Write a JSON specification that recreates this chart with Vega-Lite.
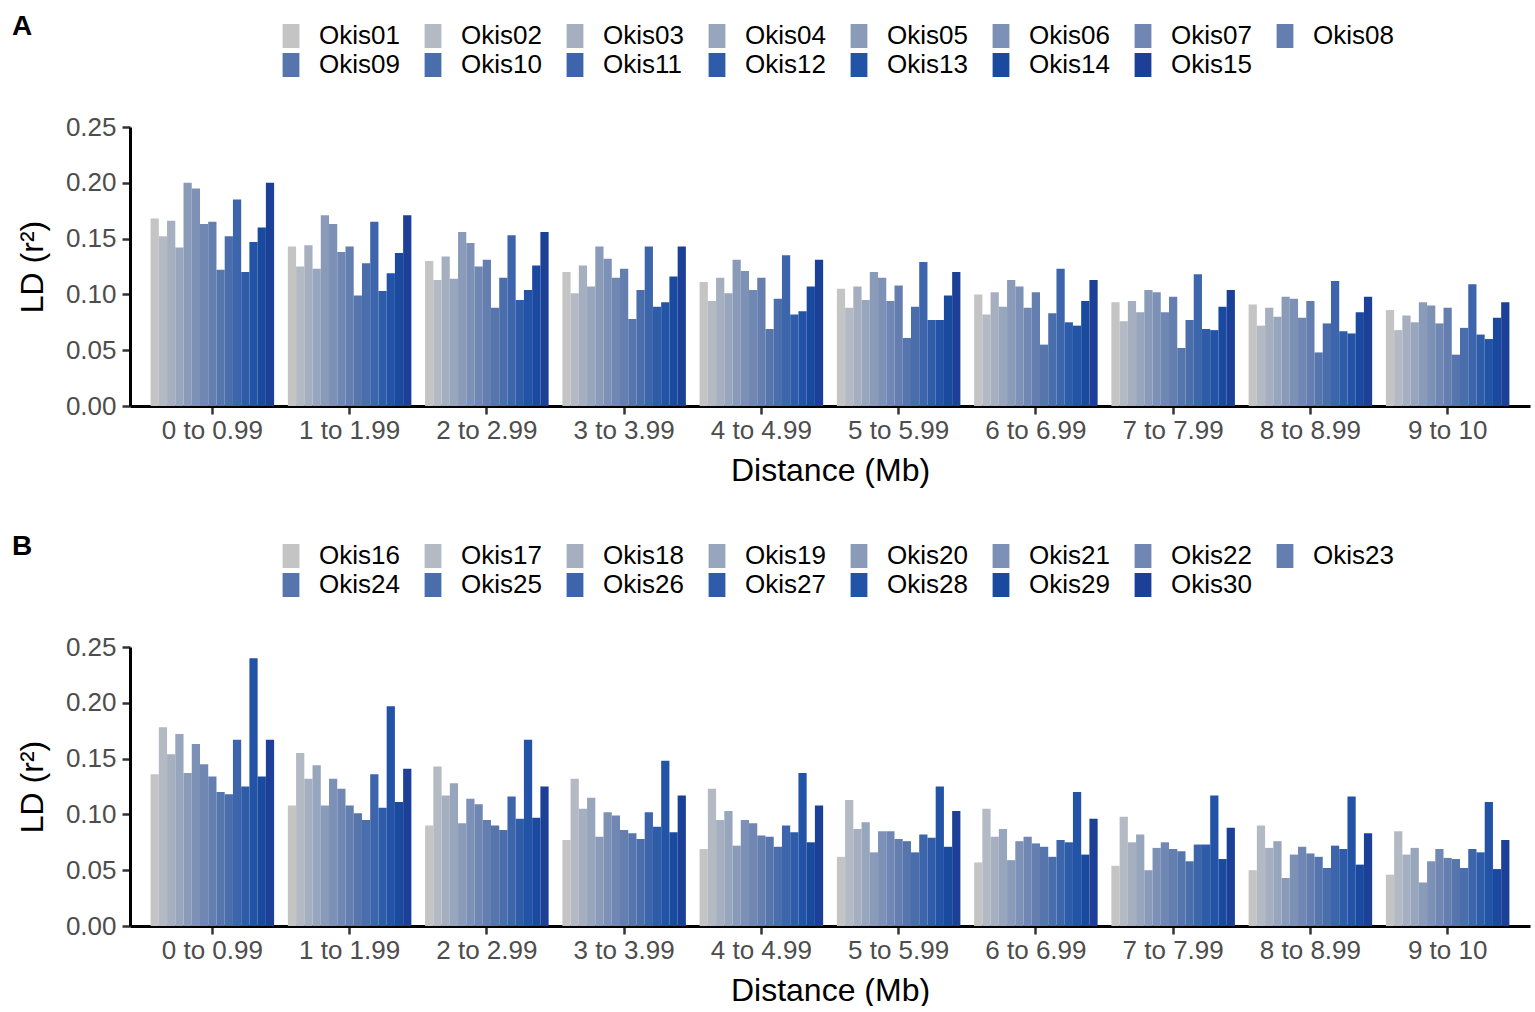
{
  "$schema": "https://vega.github.io/schema/vega-lite/v6.json",
  "background": "white",
  "padding": {"left": 12, "top": 13, "right": 5, "bottom": 0},
  "config": {
    "font": "Liberation Sans",
    "view": {"stroke": null},
    "axis": {
      "grid": false,
      "domainColor": "black",
      "domainWidth": 3,
      "tickColor": "#333333",
      "tickWidth": 2.5,
      "tickSize": 8,
      "labelColor": "#4d4d4d",
      "labelFontSize": 26,
      "labelFont": "Liberation Sans",
      "titleFont": "Liberation Sans",
      "titleFontSize": 32,
      "titleFontWeight": "normal",
      "titleColor": "black"
    },
    "legend": {
      "orient": "none",
      "columns": 8,
      "direction": "horizontal",
      "symbolType": "M-0.7,-1H0.7V1H-0.7Z",
      "symbolSize": 576,
      "symbolStrokeWidth": 0,
      "symbolOpacity": 1,
      "labelFontSize": 26,
      "labelFont": "Liberation Sans",
      "labelColor": "black",
      "labelOffset": 15,
      "columnPadding": 20,
      "rowPadding": 3,
      "padding": 0
    },
    "title": {"fontSize": 28, "fontWeight": "bold", "anchor": "start", "frame": "group", "color": "black"}
  },
  "datasets": {
    "a": [
      {"d":"0 to 0.99","s":"Okis01","r":0.168},{"d":"0 to 0.99","s":"Okis02","r":0.152},{"d":"0 to 0.99","s":"Okis03","r":0.166},{"d":"0 to 0.99","s":"Okis04","r":0.142},{"d":"0 to 0.99","s":"Okis05","r":0.200},{"d":"0 to 0.99","s":"Okis06","r":0.195},{"d":"0 to 0.99","s":"Okis07","r":0.163},{"d":"0 to 0.99","s":"Okis08","r":0.165},{"d":"0 to 0.99","s":"Okis09","r":0.122},{"d":"0 to 0.99","s":"Okis10","r":0.152},{"d":"0 to 0.99","s":"Okis11","r":0.185},{"d":"0 to 0.99","s":"Okis12","r":0.120},{"d":"0 to 0.99","s":"Okis13","r":0.147},{"d":"0 to 0.99","s":"Okis14","r":0.160},{"d":"0 to 0.99","s":"Okis15","r":0.200},
      {"d":"1 to 1.99","s":"Okis01","r":0.143},{"d":"1 to 1.99","s":"Okis02","r":0.125},{"d":"1 to 1.99","s":"Okis03","r":0.144},{"d":"1 to 1.99","s":"Okis04","r":0.123},{"d":"1 to 1.99","s":"Okis05","r":0.171},{"d":"1 to 1.99","s":"Okis06","r":0.163},{"d":"1 to 1.99","s":"Okis07","r":0.138},{"d":"1 to 1.99","s":"Okis08","r":0.143},{"d":"1 to 1.99","s":"Okis09","r":0.099},{"d":"1 to 1.99","s":"Okis10","r":0.128},{"d":"1 to 1.99","s":"Okis11","r":0.165},{"d":"1 to 1.99","s":"Okis12","r":0.103},{"d":"1 to 1.99","s":"Okis13","r":0.119},{"d":"1 to 1.99","s":"Okis14","r":0.137},{"d":"1 to 1.99","s":"Okis15","r":0.171},
      {"d":"2 to 2.99","s":"Okis01","r":0.130},{"d":"2 to 2.99","s":"Okis02","r":0.113},{"d":"2 to 2.99","s":"Okis03","r":0.134},{"d":"2 to 2.99","s":"Okis04","r":0.114},{"d":"2 to 2.99","s":"Okis05","r":0.156},{"d":"2 to 2.99","s":"Okis06","r":0.146},{"d":"2 to 2.99","s":"Okis07","r":0.125},{"d":"2 to 2.99","s":"Okis08","r":0.131},{"d":"2 to 2.99","s":"Okis09","r":0.088},{"d":"2 to 2.99","s":"Okis10","r":0.115},{"d":"2 to 2.99","s":"Okis11","r":0.153},{"d":"2 to 2.99","s":"Okis12","r":0.095},{"d":"2 to 2.99","s":"Okis13","r":0.104},{"d":"2 to 2.99","s":"Okis14","r":0.126},{"d":"2 to 2.99","s":"Okis15","r":0.156},
      {"d":"3 to 3.99","s":"Okis01","r":0.120},{"d":"3 to 3.99","s":"Okis02","r":0.101},{"d":"3 to 3.99","s":"Okis03","r":0.126},{"d":"3 to 3.99","s":"Okis04","r":0.107},{"d":"3 to 3.99","s":"Okis05","r":0.143},{"d":"3 to 3.99","s":"Okis06","r":0.132},{"d":"3 to 3.99","s":"Okis07","r":0.115},{"d":"3 to 3.99","s":"Okis08","r":0.123},{"d":"3 to 3.99","s":"Okis09","r":0.078},{"d":"3 to 3.99","s":"Okis10","r":0.104},{"d":"3 to 3.99","s":"Okis11","r":0.143},{"d":"3 to 3.99","s":"Okis12","r":0.089},{"d":"3 to 3.99","s":"Okis13","r":0.093},{"d":"3 to 3.99","s":"Okis14","r":0.116},{"d":"3 to 3.99","s":"Okis15","r":0.143},
      {"d":"4 to 4.99","s":"Okis01","r":0.111},{"d":"4 to 4.99","s":"Okis02","r":0.094},{"d":"4 to 4.99","s":"Okis03","r":0.115},{"d":"4 to 4.99","s":"Okis04","r":0.101},{"d":"4 to 4.99","s":"Okis05","r":0.131},{"d":"4 to 4.99","s":"Okis06","r":0.121},{"d":"4 to 4.99","s":"Okis07","r":0.104},{"d":"4 to 4.99","s":"Okis08","r":0.115},{"d":"4 to 4.99","s":"Okis09","r":0.069},{"d":"4 to 4.99","s":"Okis10","r":0.096},{"d":"4 to 4.99","s":"Okis11","r":0.135},{"d":"4 to 4.99","s":"Okis12","r":0.082},{"d":"4 to 4.99","s":"Okis13","r":0.085},{"d":"4 to 4.99","s":"Okis14","r":0.107},{"d":"4 to 4.99","s":"Okis15","r":0.131},
      {"d":"5 to 5.99","s":"Okis01","r":0.105},{"d":"5 to 5.99","s":"Okis02","r":0.088},{"d":"5 to 5.99","s":"Okis03","r":0.107},{"d":"5 to 5.99","s":"Okis04","r":0.095},{"d":"5 to 5.99","s":"Okis05","r":0.120},{"d":"5 to 5.99","s":"Okis06","r":0.115},{"d":"5 to 5.99","s":"Okis07","r":0.094},{"d":"5 to 5.99","s":"Okis08","r":0.108},{"d":"5 to 5.99","s":"Okis09","r":0.061},{"d":"5 to 5.99","s":"Okis10","r":0.089},{"d":"5 to 5.99","s":"Okis11","r":0.129},{"d":"5 to 5.99","s":"Okis12","r":0.077},{"d":"5 to 5.99","s":"Okis13","r":0.077},{"d":"5 to 5.99","s":"Okis14","r":0.099},{"d":"5 to 5.99","s":"Okis15","r":0.120},
      {"d":"6 to 6.99","s":"Okis01","r":0.100},{"d":"6 to 6.99","s":"Okis02","r":0.082},{"d":"6 to 6.99","s":"Okis03","r":0.102},{"d":"6 to 6.99","s":"Okis04","r":0.089},{"d":"6 to 6.99","s":"Okis05","r":0.113},{"d":"6 to 6.99","s":"Okis06","r":0.107},{"d":"6 to 6.99","s":"Okis07","r":0.088},{"d":"6 to 6.99","s":"Okis08","r":0.102},{"d":"6 to 6.99","s":"Okis09","r":0.055},{"d":"6 to 6.99","s":"Okis10","r":0.083},{"d":"6 to 6.99","s":"Okis11","r":0.123},{"d":"6 to 6.99","s":"Okis12","r":0.075},{"d":"6 to 6.99","s":"Okis13","r":0.072},{"d":"6 to 6.99","s":"Okis14","r":0.094},{"d":"6 to 6.99","s":"Okis15","r":0.113},
      {"d":"7 to 7.99","s":"Okis01","r":0.093},{"d":"7 to 7.99","s":"Okis02","r":0.076},{"d":"7 to 7.99","s":"Okis03","r":0.094},{"d":"7 to 7.99","s":"Okis04","r":0.084},{"d":"7 to 7.99","s":"Okis05","r":0.104},{"d":"7 to 7.99","s":"Okis06","r":0.102},{"d":"7 to 7.99","s":"Okis07","r":0.084},{"d":"7 to 7.99","s":"Okis08","r":0.098},{"d":"7 to 7.99","s":"Okis09","r":0.052},{"d":"7 to 7.99","s":"Okis10","r":0.077},{"d":"7 to 7.99","s":"Okis11","r":0.118},{"d":"7 to 7.99","s":"Okis12","r":0.069},{"d":"7 to 7.99","s":"Okis13","r":0.068},{"d":"7 to 7.99","s":"Okis14","r":0.089},{"d":"7 to 7.99","s":"Okis15","r":0.104},
      {"d":"8 to 8.99","s":"Okis01","r":0.091},{"d":"8 to 8.99","s":"Okis02","r":0.072},{"d":"8 to 8.99","s":"Okis03","r":0.088},{"d":"8 to 8.99","s":"Okis04","r":0.080},{"d":"8 to 8.99","s":"Okis05","r":0.098},{"d":"8 to 8.99","s":"Okis06","r":0.096},{"d":"8 to 8.99","s":"Okis07","r":0.079},{"d":"8 to 8.99","s":"Okis08","r":0.094},{"d":"8 to 8.99","s":"Okis09","r":0.048},{"d":"8 to 8.99","s":"Okis10","r":0.074},{"d":"8 to 8.99","s":"Okis11","r":0.112},{"d":"8 to 8.99","s":"Okis12","r":0.067},{"d":"8 to 8.99","s":"Okis13","r":0.065},{"d":"8 to 8.99","s":"Okis14","r":0.084},{"d":"8 to 8.99","s":"Okis15","r":0.098},
      {"d":"9 to 10","s":"Okis01","r":0.086},{"d":"9 to 10","s":"Okis02","r":0.068},{"d":"9 to 10","s":"Okis03","r":0.081},{"d":"9 to 10","s":"Okis04","r":0.075},{"d":"9 to 10","s":"Okis05","r":0.093},{"d":"9 to 10","s":"Okis06","r":0.090},{"d":"9 to 10","s":"Okis07","r":0.074},{"d":"9 to 10","s":"Okis08","r":0.088},{"d":"9 to 10","s":"Okis09","r":0.046},{"d":"9 to 10","s":"Okis10","r":0.070},{"d":"9 to 10","s":"Okis11","r":0.109},{"d":"9 to 10","s":"Okis12","r":0.064},{"d":"9 to 10","s":"Okis13","r":0.060},{"d":"9 to 10","s":"Okis14","r":0.079},{"d":"9 to 10","s":"Okis15","r":0.093}
    ],
    "b": [
      {"d":"0 to 0.99","s":"Okis16","r":0.136},{"d":"0 to 0.99","s":"Okis17","r":0.178},{"d":"0 to 0.99","s":"Okis18","r":0.154},{"d":"0 to 0.99","s":"Okis19","r":0.172},{"d":"0 to 0.99","s":"Okis20","r":0.137},{"d":"0 to 0.99","s":"Okis21","r":0.163},{"d":"0 to 0.99","s":"Okis22","r":0.145},{"d":"0 to 0.99","s":"Okis23","r":0.134},{"d":"0 to 0.99","s":"Okis24","r":0.120},{"d":"0 to 0.99","s":"Okis25","r":0.118},{"d":"0 to 0.99","s":"Okis26","r":0.167},{"d":"0 to 0.99","s":"Okis27","r":0.125},{"d":"0 to 0.99","s":"Okis28","r":0.240},{"d":"0 to 0.99","s":"Okis29","r":0.134},{"d":"0 to 0.99","s":"Okis30","r":0.167},
      {"d":"1 to 1.99","s":"Okis16","r":0.108},{"d":"1 to 1.99","s":"Okis17","r":0.155},{"d":"1 to 1.99","s":"Okis18","r":0.132},{"d":"1 to 1.99","s":"Okis19","r":0.144},{"d":"1 to 1.99","s":"Okis20","r":0.108},{"d":"1 to 1.99","s":"Okis21","r":0.132},{"d":"1 to 1.99","s":"Okis22","r":0.123},{"d":"1 to 1.99","s":"Okis23","r":0.108},{"d":"1 to 1.99","s":"Okis24","r":0.101},{"d":"1 to 1.99","s":"Okis25","r":0.095},{"d":"1 to 1.99","s":"Okis26","r":0.136},{"d":"1 to 1.99","s":"Okis27","r":0.106},{"d":"1 to 1.99","s":"Okis28","r":0.197},{"d":"1 to 1.99","s":"Okis29","r":0.111},{"d":"1 to 1.99","s":"Okis30","r":0.141},
      {"d":"2 to 2.99","s":"Okis16","r":0.090},{"d":"2 to 2.99","s":"Okis17","r":0.143},{"d":"2 to 2.99","s":"Okis18","r":0.117},{"d":"2 to 2.99","s":"Okis19","r":0.128},{"d":"2 to 2.99","s":"Okis20","r":0.092},{"d":"2 to 2.99","s":"Okis21","r":0.114},{"d":"2 to 2.99","s":"Okis22","r":0.109},{"d":"2 to 2.99","s":"Okis23","r":0.095},{"d":"2 to 2.99","s":"Okis24","r":0.090},{"d":"2 to 2.99","s":"Okis25","r":0.086},{"d":"2 to 2.99","s":"Okis26","r":0.116},{"d":"2 to 2.99","s":"Okis27","r":0.096},{"d":"2 to 2.99","s":"Okis28","r":0.167},{"d":"2 to 2.99","s":"Okis29","r":0.097},{"d":"2 to 2.99","s":"Okis30","r":0.125},
      {"d":"3 to 3.99","s":"Okis16","r":0.077},{"d":"3 to 3.99","s":"Okis17","r":0.132},{"d":"3 to 3.99","s":"Okis18","r":0.105},{"d":"3 to 3.99","s":"Okis19","r":0.115},{"d":"3 to 3.99","s":"Okis20","r":0.080},{"d":"3 to 3.99","s":"Okis21","r":0.102},{"d":"3 to 3.99","s":"Okis22","r":0.099},{"d":"3 to 3.99","s":"Okis23","r":0.086},{"d":"3 to 3.99","s":"Okis24","r":0.083},{"d":"3 to 3.99","s":"Okis25","r":0.078},{"d":"3 to 3.99","s":"Okis26","r":0.102},{"d":"3 to 3.99","s":"Okis27","r":0.089},{"d":"3 to 3.99","s":"Okis28","r":0.148},{"d":"3 to 3.99","s":"Okis29","r":0.084},{"d":"3 to 3.99","s":"Okis30","r":0.117},
      {"d":"4 to 4.99","s":"Okis16","r":0.069},{"d":"4 to 4.99","s":"Okis17","r":0.123},{"d":"4 to 4.99","s":"Okis18","r":0.095},{"d":"4 to 4.99","s":"Okis19","r":0.103},{"d":"4 to 4.99","s":"Okis20","r":0.072},{"d":"4 to 4.99","s":"Okis21","r":0.095},{"d":"4 to 4.99","s":"Okis22","r":0.092},{"d":"4 to 4.99","s":"Okis23","r":0.081},{"d":"4 to 4.99","s":"Okis24","r":0.080},{"d":"4 to 4.99","s":"Okis25","r":0.071},{"d":"4 to 4.99","s":"Okis26","r":0.090},{"d":"4 to 4.99","s":"Okis27","r":0.084},{"d":"4 to 4.99","s":"Okis28","r":0.137},{"d":"4 to 4.99","s":"Okis29","r":0.075},{"d":"4 to 4.99","s":"Okis30","r":0.108},
      {"d":"5 to 5.99","s":"Okis16","r":0.062},{"d":"5 to 5.99","s":"Okis17","r":0.113},{"d":"5 to 5.99","s":"Okis18","r":0.087},{"d":"5 to 5.99","s":"Okis19","r":0.093},{"d":"5 to 5.99","s":"Okis20","r":0.066},{"d":"5 to 5.99","s":"Okis21","r":0.085},{"d":"5 to 5.99","s":"Okis22","r":0.085},{"d":"5 to 5.99","s":"Okis23","r":0.078},{"d":"5 to 5.99","s":"Okis24","r":0.076},{"d":"5 to 5.99","s":"Okis25","r":0.066},{"d":"5 to 5.99","s":"Okis26","r":0.082},{"d":"5 to 5.99","s":"Okis27","r":0.079},{"d":"5 to 5.99","s":"Okis28","r":0.125},{"d":"5 to 5.99","s":"Okis29","r":0.071},{"d":"5 to 5.99","s":"Okis30","r":0.103},
      {"d":"6 to 6.99","s":"Okis16","r":0.057},{"d":"6 to 6.99","s":"Okis17","r":0.105},{"d":"6 to 6.99","s":"Okis18","r":0.080},{"d":"6 to 6.99","s":"Okis19","r":0.087},{"d":"6 to 6.99","s":"Okis20","r":0.059},{"d":"6 to 6.99","s":"Okis21","r":0.076},{"d":"6 to 6.99","s":"Okis22","r":0.080},{"d":"6 to 6.99","s":"Okis23","r":0.074},{"d":"6 to 6.99","s":"Okis24","r":0.071},{"d":"6 to 6.99","s":"Okis25","r":0.062},{"d":"6 to 6.99","s":"Okis26","r":0.077},{"d":"6 to 6.99","s":"Okis27","r":0.075},{"d":"6 to 6.99","s":"Okis28","r":0.120},{"d":"6 to 6.99","s":"Okis29","r":0.064},{"d":"6 to 6.99","s":"Okis30","r":0.096},
      {"d":"7 to 7.99","s":"Okis16","r":0.054},{"d":"7 to 7.99","s":"Okis17","r":0.098},{"d":"7 to 7.99","s":"Okis18","r":0.075},{"d":"7 to 7.99","s":"Okis19","r":0.082},{"d":"7 to 7.99","s":"Okis20","r":0.050},{"d":"7 to 7.99","s":"Okis21","r":0.070},{"d":"7 to 7.99","s":"Okis22","r":0.075},{"d":"7 to 7.99","s":"Okis23","r":0.069},{"d":"7 to 7.99","s":"Okis24","r":0.067},{"d":"7 to 7.99","s":"Okis25","r":0.058},{"d":"7 to 7.99","s":"Okis26","r":0.073},{"d":"7 to 7.99","s":"Okis27","r":0.073},{"d":"7 to 7.99","s":"Okis28","r":0.117},{"d":"7 to 7.99","s":"Okis29","r":0.060},{"d":"7 to 7.99","s":"Okis30","r":0.088},
      {"d":"8 to 8.99","s":"Okis16","r":0.050},{"d":"8 to 8.99","s":"Okis17","r":0.090},{"d":"8 to 8.99","s":"Okis18","r":0.070},{"d":"8 to 8.99","s":"Okis19","r":0.076},{"d":"8 to 8.99","s":"Okis20","r":0.043},{"d":"8 to 8.99","s":"Okis21","r":0.064},{"d":"8 to 8.99","s":"Okis22","r":0.071},{"d":"8 to 8.99","s":"Okis23","r":0.065},{"d":"8 to 8.99","s":"Okis24","r":0.062},{"d":"8 to 8.99","s":"Okis25","r":0.052},{"d":"8 to 8.99","s":"Okis26","r":0.072},{"d":"8 to 8.99","s":"Okis27","r":0.069},{"d":"8 to 8.99","s":"Okis28","r":0.116},{"d":"8 to 8.99","s":"Okis29","r":0.055},{"d":"8 to 8.99","s":"Okis30","r":0.083},
      {"d":"9 to 10","s":"Okis16","r":0.046},{"d":"9 to 10","s":"Okis17","r":0.085},{"d":"9 to 10","s":"Okis18","r":0.064},{"d":"9 to 10","s":"Okis19","r":0.070},{"d":"9 to 10","s":"Okis20","r":0.039},{"d":"9 to 10","s":"Okis21","r":0.058},{"d":"9 to 10","s":"Okis22","r":0.069},{"d":"9 to 10","s":"Okis23","r":0.061},{"d":"9 to 10","s":"Okis24","r":0.060},{"d":"9 to 10","s":"Okis25","r":0.052},{"d":"9 to 10","s":"Okis26","r":0.069},{"d":"9 to 10","s":"Okis27","r":0.066},{"d":"9 to 10","s":"Okis28","r":0.111},{"d":"9 to 10","s":"Okis29","r":0.051},{"d":"9 to 10","s":"Okis30","r":0.077}
    ]
  },
  "spacing": 47,
  "resolve": {"scale": {"color": "independent", "xOffset": "independent"}, "legend": {"color": "independent"}},
  "vconcat": [
    {
      "width": 1400,
      "height": 279,
      "title": {"text": "A", "dx": -118, "offset": -18},
      "data": {"name": "a"},
      "mark": "bar",
      "encoding": {
        "x": {
          "field": "d", "type": "nominal", "title": "Distance (Mb)",
          "scale": {"paddingInner": 0.1, "paddingOuter": 0.15},
          "axis": {"labelAngle": 0, "labelPadding": 3, "titlePadding": 12}
        },
        "xOffset": {"field": "s", "type": "nominal", "scale": {"paddingInner": 0, "paddingOuter": 0}},
        "y": {
          "field": "r", "type": "quantitative", "title": "LD (r²)",
          "scale": {"domain": [0, 0.25], "nice": false},
          "axis": {"values": [0, 0.05, 0.1, 0.15, 0.2, 0.25], "format": ".2f", "labelPadding": 6, "titlePadding": 16}
        },
        "color": {
          "field": "s", "type": "nominal",
          "scale": {
            "domain": ["Okis01","Okis02","Okis03","Okis04","Okis05","Okis06","Okis07","Okis08","Okis09","Okis10","Okis11","Okis12","Okis13","Okis14","Okis15"],
            "range": ["#c4c4c4","#b4bac4","#a5afc0","#97a5bd","#8a9bba","#7d91b6","#7087b3","#647eaf","#5575ac","#4a6dab","#3d65ab","#2f5ca9","#2253a7","#1a4aa0","#1c3f98"]
          },
          "legend": {"title": null, "legendX": 148, "legendY": -104}
        }
      }
    },
    {
      "width": 1400,
      "height": 279,
      "title": {"text": "B", "dx": -118, "offset": -18},
      "data": {"name": "b"},
      "mark": "bar",
      "encoding": {
        "x": {
          "field": "d", "type": "nominal", "title": "Distance (Mb)",
          "scale": {"paddingInner": 0.1, "paddingOuter": 0.15},
          "axis": {"labelAngle": 0, "labelPadding": 3, "titlePadding": 12}
        },
        "xOffset": {"field": "s", "type": "nominal", "scale": {"paddingInner": 0, "paddingOuter": 0}},
        "y": {
          "field": "r", "type": "quantitative", "title": "LD (r²)",
          "scale": {"domain": [0, 0.25], "nice": false},
          "axis": {"values": [0, 0.05, 0.1, 0.15, 0.2, 0.25], "format": ".2f", "labelPadding": 6, "titlePadding": 16}
        },
        "color": {
          "field": "s", "type": "nominal",
          "scale": {
            "domain": ["Okis16","Okis17","Okis18","Okis19","Okis20","Okis21","Okis22","Okis23","Okis24","Okis25","Okis26","Okis27","Okis28","Okis29","Okis30"],
            "range": ["#c4c4c4","#b4bac4","#a5afc0","#97a5bd","#8a9bba","#7d91b6","#7087b3","#647eaf","#5575ac","#4a6dab","#3d65ab","#2f5ca9","#2253a7","#1a4aa0","#1c3f98"]
          },
          "legend": {"title": null, "legendX": 148, "legendY": -104}
        }
      }
    }
  ]
}
